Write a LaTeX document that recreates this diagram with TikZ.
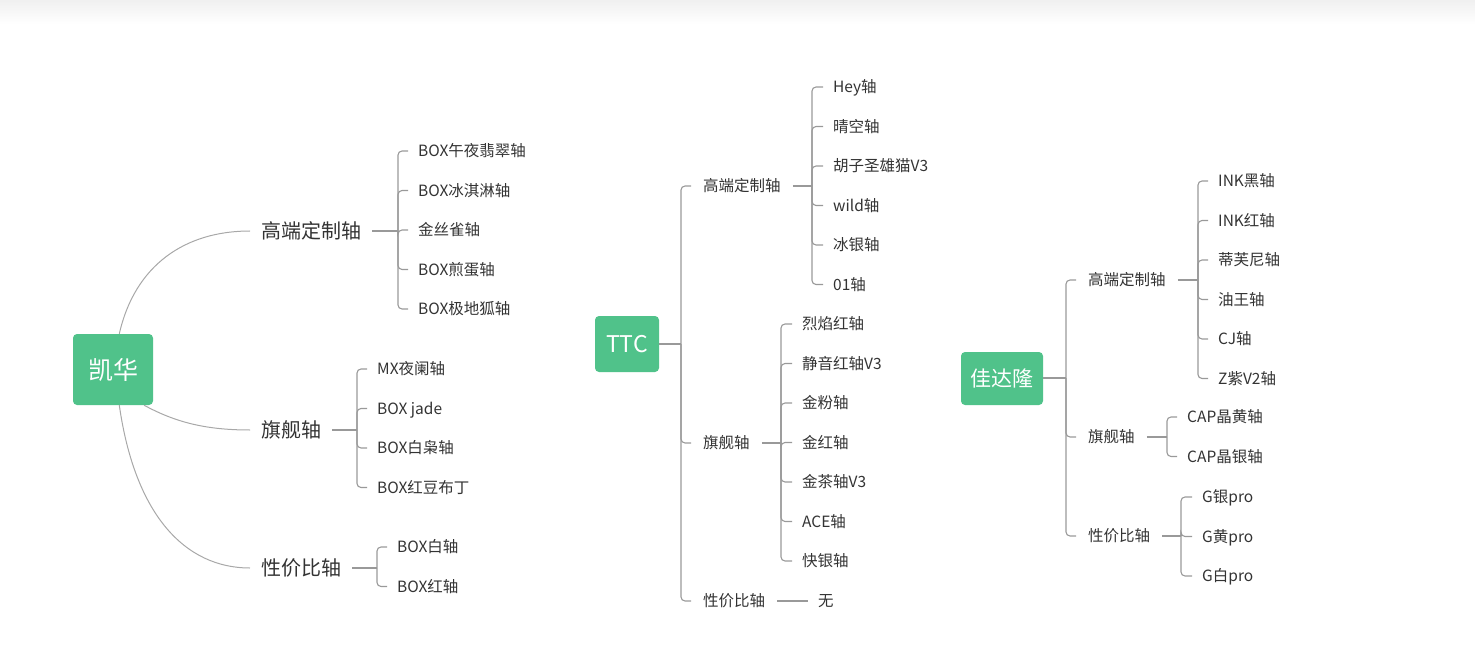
\documentclass[tikz,border=0pt]{standalone}
\usepackage{fontspec}
\setmainfont{Noto Sans CJK SC}
\definecolor{mapgreen}{HTML}{50C28A}
\definecolor{maptext}{HTML}{333333}
\definecolor{mapline}{HTML}{999999}

\begin{document}
\begin{tikzpicture}[x=1pt,y=-1pt,
  root/.style={fill=mapgreen,rounded corners=4pt,text=white,inner sep=0pt,text depth=0pt},
  big/.style={anchor=west,inner xsep=11pt,text=maptext,font=\fontsize{20}{24}\selectfont,text height=15.4pt,text depth=0pt},
  mid/.style={anchor=west,inner xsep=12pt,text=maptext,font=\fontsize{15.5}{18}\selectfont,text height=11.4pt,text depth=0pt},
  leaf/.style={anchor=west,inner xsep=10pt,text=maptext,font=\fontsize{15.5}{18}\selectfont,text height=11.4pt,text depth=0pt},
  link/.style={draw=mapline,line width=1.1pt,rounded corners=4pt},
  curve/.style={draw=mapline!85,line width=1pt}]
\useasboundingbox (0,0) rectangle (1475,671);
\shade[top color=black!6,bottom color=white] (0,0) rectangle (1475,24);

% 凯华
\node[root,minimum width=80pt,minimum height=71pt,text height=20pt,font=\fontsize{25}{30}\selectfont] (kh) at (113,369.5) {凯华};
\node[big] (kh1) at (250,231) {高端定制轴};
\node[big] (kh2) at (250,430) {旗舰轴};
\node[big] (kh3) at (250,568) {性价比轴};
\draw[curve] (kh.80) .. controls (135,265) and (185,231) .. (kh1.west);
\draw[curve] (kh.-49) .. controls (175,422) and (205,430) .. (kh2.west);
\draw[curve] (kh.-80) .. controls (135,515) and (185,568) .. (kh3.west);
\coordinate (kh1j) at (398,231);
\coordinate (kh2j) at (357,430);
\coordinate (kh3j) at (377,568);
\draw[link] (kh1.east) -- (kh1j);
\draw[link] (kh2.east) -- (kh2j);
\draw[link] (kh3.east) -- (kh3j);
\foreach \t [count=\i] in {BOX午夜翡翠轴,BOX冰淇淋轴,金丝雀轴,BOX煎蛋轴,BOX极地狐轴}{
  \node[leaf] (kha\i) at (408,{151+39.5*(\i-1)}) {\t};
  \draw[link] (kh1j) |- (kha\i.west);
}
\foreach \t [count=\i] in {MX夜阑轴,BOX jade,BOX白枭轴,BOX红豆布丁}{
  \node[leaf] (khb\i) at (367,{369+39.5*(\i-1)}) {\t};
  \draw[link] (kh2j) |- (khb\i.west);
}
\foreach \t [count=\i] in {BOX白轴,BOX红轴}{
  \node[leaf] (khc\i) at (387,{547+39.5*(\i-1)}) {\t};
  \draw[link] (kh3j) |- (khc\i.west);
}

% TTC
\node[root,minimum width=64pt,minimum height=56pt,text height=17pt,font=\fontsize{23}{28}\selectfont] (tc) at (627,344) {TTC};
\coordinate (tcj) at (681,344);
\draw[link] (tc.east) -- (tcj);
\node[mid] (tc1) at (691,186) {高端定制轴};
\node[mid] (tc2) at (691,443) {旗舰轴};
\node[mid] (tc3) at (691,601) {性价比轴};
\foreach \n in {tc1,tc2,tc3}
  \draw[link] (tcj) |- (\n.west);
\coordinate (tc1j) at (812,186);
\coordinate (tc2j) at (781,443);
\draw[link] (tc1.east) -- (tc1j);
\draw[link] (tc2.east) -- (tc2j);
\foreach \t [count=\i] in {Hey轴,晴空轴,胡子圣雄猫V3,wild轴,冰银轴,01轴}{
  \node[leaf] (tca\i) at (823,{87+39.5*(\i-1)}) {\t};
  \draw[link] (tc1j) |- (tca\i.west);
}
\foreach \t [count=\i] in {烈焰红轴,静音红轴V3,金粉轴,金红轴,金茶轴V3,ACE轴,快银轴}{
  \node[leaf] (tcb\i) at (792,{324+39.5*(\i-1)}) {\t};
  \draw[link] (tc2j) |- (tcb\i.west);
}
\node[leaf] (tcc1) at (808,601) {无};
\draw[link] (tc3.east) -- (tcc1.west);

% 佳达隆
\node[root,minimum width=82pt,minimum height=53pt,text height=16.5pt,font=\fontsize{21}{26}\selectfont] (jd) at (1002,378.5) {佳达隆};
\coordinate (jdj) at (1066,378);
\draw[link] (jd.east |- jdj) -- (jdj);
\node[mid] (jd1) at (1076,280) {高端定制轴};
\node[mid] (jd2) at (1076,437) {旗舰轴};
\node[mid] (jd3) at (1076,536) {性价比轴};
\foreach \n in {jd1,jd2,jd3}
  \draw[link] (jdj) |- (\n.west);
\coordinate (jd1j) at (1198,280);
\coordinate (jd2j) at (1167,437);
\coordinate (jd3j) at (1181,536);
\draw[link] (jd1.east) -- (jd1j);
\draw[link] (jd2.east) -- (jd2j);
\draw[link] (jd3.east) -- (jd3j);
\foreach \t [count=\i] in {INK黑轴,INK红轴,蒂芙尼轴,油王轴,CJ轴,Z紫V2轴}{
  \node[leaf] (jda\i) at (1208,{181+39.5*(\i-1)}) {\t};
  \draw[link] (jd1j) |- (jda\i.west);
}
\foreach \t [count=\i] in {CAP晶黄轴,CAP晶银轴}{
  \node[leaf] (jdb\i) at (1177,{417+39.5*(\i-1)}) {\t};
  \draw[link] (jd2j) |- (jdb\i.west);
}
\foreach \t [count=\i] in {G银pro,G黄pro,G白pro}{
  \node[leaf] (jdc\i) at (1192,{497+39.5*(\i-1)}) {\t};
  \draw[link] (jd3j) |- (jdc\i.west);
}
\end{tikzpicture}
\end{document}
